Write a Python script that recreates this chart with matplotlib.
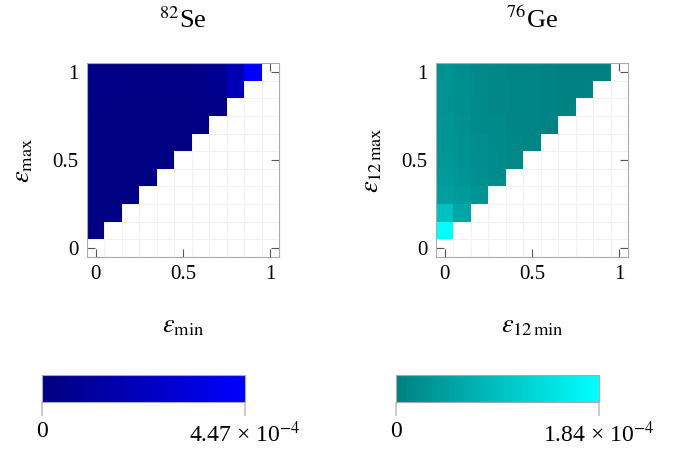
import numpy as np
import matplotlib
matplotlib.use("Agg")
import matplotlib.pyplot as plt
from matplotlib.colors import LinearSegmentedColormap, Normalize
from matplotlib.cm import ScalarMappable

plt.rcParams['font.family'] = ['Liberation Serif', 'DejaVu Serif']
plt.rcParams['mathtext.fontset'] = 'stix'

eps = [0.0, 0.1, 0.2, 0.3, 0.4, 0.5, 0.6, 0.7, 0.8, 0.9, 1.0]

# values in units of 1e-4, row = eps_max (0.1 .. 1.0), cols = eps_min from 0
se_rows = [
    [0.08],
    [0.08, 0.07],
    [0.09, 0.08, 0.07],
    [0.09, 0.08, 0.08, 0.07],
    [0.10, 0.09, 0.08, 0.08, 0.07],
    [0.11, 0.10, 0.09, 0.09, 0.08, 0.08],
    [0.12, 0.11, 0.10, 0.10, 0.09, 0.09, 0.10],
    [0.14, 0.13, 0.12, 0.12, 0.11, 0.12, 0.15, 0.25],
    [0.17, 0.16, 0.15, 0.15, 0.15, 0.17, 0.22, 0.55, 1.95],
    [0.22, 0.21, 0.20, 0.20, 0.21, 0.24, 0.32, 0.70, 1.80, 4.47],
]
ge_rows = [
    [1.84],
    [0.92, 0.55],
    [0.45, 0.38, 0.30],
    [0.38, 0.32, 0.24, 0.18],
    [0.34, 0.28, 0.21, 0.16, 0.12],
    [0.31, 0.25, 0.19, 0.14, 0.11, 0.08],
    [0.29, 0.23, 0.17, 0.13, 0.10, 0.07, 0.05],
    [0.27, 0.22, 0.16, 0.12, 0.09, 0.07, 0.05, 0.04],
    [0.26, 0.21, 0.15, 0.12, 0.09, 0.06, 0.05, 0.04, 0.03],
    [0.25, 0.20, 0.15, 0.11, 0.08, 0.06, 0.05, 0.04, 0.03, 0.03],
]
se_max = 4.47
ge_max = 1.84


def to_grid(rows):
    g = np.full((len(eps), len(eps)), np.nan)
    for i, r in enumerate(rows):
        g[i + 1, :len(r)] = r
    return g


panels = [
    dict(data=to_grid(se_rows), vmax=se_max, cmap=LinearSegmentedColormap.from_list('se', ['#000080', '#0000ff']),
         title=r'$^{82}$Se', xl=r'$\varepsilon_{\mathrm{min}}$', yl=r'$\varepsilon_{\mathrm{max}}$',
         lab='4.47 × 10$^{-4}$', x0=87, cx=42),
    dict(data=to_grid(ge_rows), vmax=ge_max, cmap=LinearSegmentedColormap.from_list('ge', ['#008080', '#00ffff']),
         title=r'$^{76}$Ge', xl=r'$\varepsilon_{12\,\mathrm{min}}$', yl=r'$\varepsilon_{12\,\mathrm{max}}$',
         lab='1.84 × 10$^{-4}$', x0=436, cx=396),
]

W, H = 684, 450
fig = plt.figure(figsize=(W / 100, H / 100), dpi=100)

for p in panels:
    ax = fig.add_axes([p['x0'] / W, 1 - 257 / H, 192 / W, 194 / H])
    norm = Normalize(0, p['vmax'])
    edges = np.arange(-0.05, 1.06, 0.1)
    ax.pcolormesh(edges, edges, np.ma.masked_invalid(p['data']), cmap=p['cmap'], norm=norm)
    ax.set_xlim(-0.05, 1.05)
    ax.set_ylim(-0.05, 1.05)
    ax.set_xticks([0, 0.5, 1])
    ax.set_yticks([0, 0.5, 1])
    ax.set_xticklabels(['0', '0.5', '1'])
    ax.set_yticklabels(['0', '0.5', '1'])
    ax.set_xticks(edges[1:-1], minor=True)
    ax.set_yticks(edges[1:-1], minor=True)
    ax.grid(which='minor', color='#f2f2f2', lw=0.8)
    ax.set_axisbelow(True)
    ax.tick_params(which='major', direction='in', top=True, right=True, length=6,
                   color='#555555', labelsize=15, pad=6)
    ax.tick_params(which='minor', length=0)
    for s in ax.spines.values():
        s.set_color('#aaaaaa')
    cx_center = (p['x0'] + 96) / W
    fig.text(cx_center, 1 - 20 / H, p['title'], ha='center', va='center', fontsize=19)
    fig.text(cx_center, 1 - 327 / H, p['xl'], ha='center', va='center', fontsize=19)
    fig.text((p['x0'] - 63) / W, 1 - 160 / H, p['yl'], ha='center', va='center', fontsize=19, rotation=90)

    cax = fig.add_axes([p['cx'] / W, 1 - 402 / H, 203 / W, 27 / H])
    cb = fig.colorbar(ScalarMappable(norm=norm, cmap=p['cmap']), cax=cax, orientation='horizontal')
    cb.set_ticks([0, p['vmax']])
    cb.set_ticklabels(['0', p['lab']])
    cb.outline.set_edgecolor('#aaaaaa')
    cax.tick_params(length=10, color='#cccccc', width=1.5, labelsize=17, pad=4)

fig.savefig('out.png', dpi=100)
